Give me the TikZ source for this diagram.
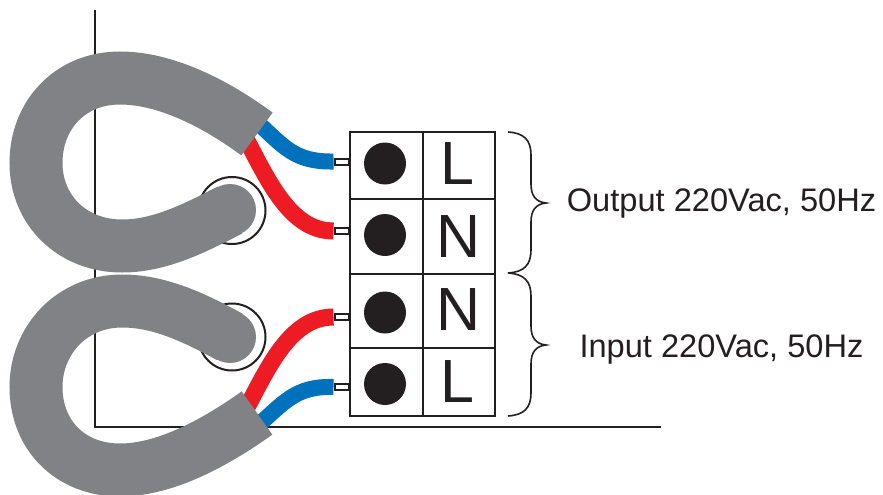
\documentclass[tikz,border=0pt]{standalone}
\usepackage{fontspec}
\setmainfont{Liberation Sans}
\definecolor{ink}{HTML}{231F20}
\definecolor{cablegray}{HTML}{808285}
\definecolor{wireblue}{HTML}{0071BC}
\definecolor{wirered}{HTML}{ED1C24}
\tikzset{
  frameline/.style={draw=ink,line width=2pt},
  boxline/.style={draw=ink,line width=2pt},
  cable/.style={draw=cablegray,line width=53pt,line cap=butt},
  capdot/.style={circle,fill=cablegray,minimum size=52pt,inner sep=0pt},
  wirebl/.style={draw=wireblue,line width=16pt,line cap=butt},
  wirerd/.style={draw=wirered,line width=17pt,line cap=butt},
  term/.style={rectangle,draw=ink,line width=2pt,fill=white,minimum width=14pt,minimum height=6pt,inner sep=0pt},
  screw/.style={circle,fill=ink,minimum size=42pt,inner sep=0pt},
  gland/.style={circle,draw=ink,fill=white,line width=2pt,minimum size=67pt,inner sep=0pt},
  letter/.style={font=\fontsize{61}{61}\selectfont,text=ink,inner sep=0pt},
  caption/.style={font=\fontsize{32.6}{36}\selectfont,text=ink,inner sep=0pt},
  bracket/.style={draw=ink,line width=1.6pt}
}
\begin{document}
\begin{tikzpicture}[x=1pt,y=-1pt]
\useasboundingbox (0,0) rectangle (883,495);
% frame
\coordinate (ftop) at (95,10);
\coordinate (fcorner) at (95,427);
\coordinate (fend) at (661,427);
\draw[frameline] (ftop) -- (fcorner) -- (fend);
% glands
\node[gland] (g1) at (232,210.5) {};
\node[gland] (g2) at (232,337) {};
% terminals
\node[term] (t1) at (341.5,161.5) {};
\node[term] (t2) at (341.5,231) {};
\node[term] (t3) at (341.5,317) {};
\node[term] (t4) at (341.5,387) {};
% wires
\coordinate (b1s) at (255,120);
\coordinate (r1s) at (245,137);
\coordinate (r2s) at (245,411);
\coordinate (b2s) at (255,428);
\draw[wirebl] (b1s) .. controls (285,148) and (295,162) .. (t1.west);
\draw[wirerd] (r1s) .. controls (268,180) and (290,231) .. (t2.west);
\draw[wirerd] (r2s) .. controls (268,368) and (290,317) .. (t3.west);
\draw[wirebl] (b2s) .. controls (285,402) and (295,386) .. (t4.west);
% cables
\coordinate (c1a) at (257,134);
\coordinate (c2a) at (257,413);
\node[capdot] (c1b) at (230,210) {};
\node[capdot] (c2b) at (230,337) {};
\draw[cable] (c1a) .. controls (215,103) and (165,78) .. (120,78)
  .. controls (70,78) and (36,115) .. (36,163)
  .. controls (36,210) and (72,246) .. (122,246)
  .. controls (160,246) and (195,228) .. (c1b.center);
\draw[cable] (c2a) .. controls (215,443) and (165,470) .. (120,470)
  .. controls (70,470) and (36,435) .. (36,387)
  .. controls (36,340) and (72,301) .. (122,301)
  .. controls (160,301) and (195,318) .. (c2b.center);
% terminal block
\draw[boxline] (350,132) rectangle (495,416);
\draw[boxline] (350,199) -- (495,199);
\draw[boxline] (350,274) -- (495,274);
\draw[boxline] (350,348) -- (495,348);
\draw[boxline] (423,132) -- (423,416);
\node[screw] (s1) at (385,163.5) {};
\node[screw] (s2) at (385,235) {};
\node[screw] (s3) at (385,312.5) {};
\node[screw] (s4) at (385,384) {};
\node[letter] (l1) at (457,164) {L};
\node[letter] (n1) at (459,237) {N};
\node[letter] (n2) at (459,310) {N};
\node[letter] (l2) at (457,382) {L};
% braces
\draw[bracket] (508,132) .. controls (524,133) and (531,140) .. (531,155)
  -- (531,184) .. controls (531,196) and (536,202) .. (546,203)
  .. controls (536,204) and (531,210) .. (531,222)
  -- (531,250) .. controls (531,265) and (524,272) .. (508,273);
\draw[bracket] (508,273) .. controls (524,274) and (531,281) .. (531,296)
  -- (531,326) .. controls (531,338) and (536,344) .. (546,345)
  .. controls (536,346) and (531,352) .. (531,364)
  -- (531,393) .. controls (531,408) and (524,415) .. (508,416);
\node[caption] (out) at (721.5,203) {Output 220Vac, 50Hz};
\node[caption] (inp) at (721.5,349) {Input 220Vac, 50Hz};
\end{tikzpicture}
\end{document}
